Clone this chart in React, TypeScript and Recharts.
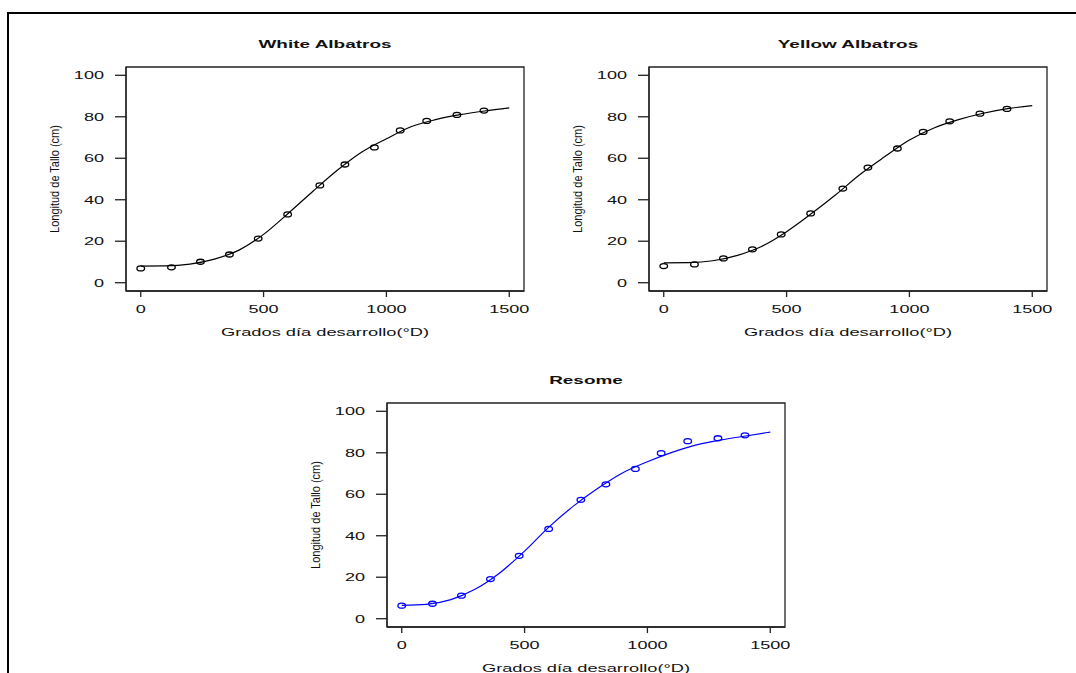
import React from "react";
import {
  ComposedChart,
  Line,
  Scatter,
  XAxis,
  YAxis,
  ReferenceArea,
} from "recharts";

// ---- data ----
const POINT_X = [0, 125, 243, 361, 478, 598, 729, 831, 951, 1056, 1164, 1287, 1397];
const WHITE_POINTS = [6.9, 7.4, 10.1, 13.6, 21.3, 32.9, 46.9, 57.0, 65.2, 73.4, 78.0, 80.9, 83.0];
const YELLOW_POINTS = [8.0, 8.8, 11.7, 16.1, 23.3, 33.4, 45.4, 55.5, 64.7, 72.7, 77.8, 81.5, 83.8];
const RESOME_POINTS = [6.3, 7.2, 11.1, 19.1, 30.3, 43.3, 57.3, 64.8, 72.2, 79.8, 85.6, 87.0, 88.4];

const CURVE_X = [0, 100, 200, 300, 400, 500, 600, 700, 800, 900, 1000, 1100, 1200, 1300, 1400, 1500];
const WHITE_CURVE = [8.0, 8.1, 9.0, 11.4, 15.7, 23.3, 33.4, 44.0, 54.2, 63.0, 69.4, 75.2, 78.6, 81.0, 82.8, 84.3];
const YELLOW_CURVE = [9.6, 9.7, 10.6, 13.2, 17.6, 24.6, 33.2, 42.4, 52.3, 60.8, 68.8, 74.6, 78.6, 81.7, 83.9, 85.4];
const RESOME_CURVE = [6.4, 6.9, 9.2, 14.3, 22.2, 32.6, 44.3, 54.4, 63.0, 70.4, 75.7, 80.2, 83.8, 86.2, 88.1, 90.0];

const X_TICKS = [0, 500, 1000, 1500];
const Y_TICKS = [0, 20, 40, 60, 80, 100];
const X_DOMAIN = [-60, 1560];
const Y_DOMAIN = [-4, 104];

const TITLES = ["White Albatros", "Yellow Albatros", "Resome"];
const X_LABEL = "Grados día desarrollo(°D)";
const Y_LABEL = "Longitud de Tallo (cm)";

// ---- styling ----
const FONT = "'Liberation Sans', Arial, Helvetica, sans-serif";
const SX = 1.6; // horizontal stretch of the original picture
const BOX_W = 398;
const BOX_H = 224;
const PAD_L = 100;
const PAD_T = 50;
const PAD_R = 30;
const PAD_B = 50;
const YW = 60;
const XH = 30;

const toPts = (xs: number[], ys: number[]) => xs.map((x, i) => ({ x, y: ys[i] }));

const StretchText = ({
  x,
  y,
  text,
  anchor = "middle",
  size = 11,
  weight = "normal",
  sx = SX,
  rotate = 0,
  color = "#111",
}: any) => (
  <g transform={`translate(${x},${y}) scale(${sx},1) rotate(${rotate})`}>
    <text
      x={0}
      y={0}
      textAnchor={anchor}
      dominantBaseline="central"
      fontFamily={FONT}
      fontSize={size}
      fontWeight={weight}
      fill={color}
    >
      {text}
    </text>
  </g>
);

const YTick = (props: any) => {
  const { x, y, payload } = props;
  return <StretchText x={x} y={y} text={String(payload.value)} anchor="end" size={11.3} />;
};
const XTick = (props: any) => {
  const { x, y, payload } = props;
  return <StretchText x={x} y={y} text={String(payload.value)} anchor="middle" size={11.3} />;
};

const makeMarker = (color: string) => (props: any) => {
  const { cx, cy } = props;
  if (cx == null || cy == null) return <g />;
  return (
    <ellipse cx={cx} cy={cy} rx={3.8} ry={2.5} fill="none" stroke={color} strokeWidth={1.3} />
  );
};

const Panel = ({
  left,
  top,
  title,
  points,
  curve,
  color,
}: {
  left: number;
  top: number;
  title: string;
  points: { x: number; y: number }[];
  curve: { x: number; y: number }[];
  color: string;
}) => {
  const W = PAD_L + BOX_W + PAD_R;
  const H = PAD_T + BOX_H + PAD_B;
  return (
    <div style={{ position: "absolute", left: left - PAD_L, top: top - PAD_T, width: W, height: H }}>
      <ComposedChart
        width={W}
        height={H}
        margin={{ top: PAD_T, right: PAD_R, bottom: PAD_B - XH, left: PAD_L - YW }}
      >
        <XAxis
          type="number"
          dataKey="x"
          domain={X_DOMAIN}
          ticks={X_TICKS}
          height={XH}
          allowDataOverflow
          tickSize={6}
          tickMargin={12}
          tick={<XTick />}
          axisLine={{ stroke: "#222", strokeWidth: 1.3 }}
          tickLine={{ stroke: "#222", strokeWidth: 1.3 }}
        />
        <YAxis
          type="number"
          dataKey="y"
          domain={Y_DOMAIN}
          ticks={Y_TICKS}
          width={YW}
          allowDataOverflow
          tickSize={11}
          tickMargin={11}
          tick={<YTick />}
          axisLine={{ stroke: "#222", strokeWidth: 1.3 }}
          tickLine={{ stroke: "#222", strokeWidth: 1.3 }}
        />
        <ReferenceArea
          x1={X_DOMAIN[0]}
          x2={X_DOMAIN[1]}
          y1={Y_DOMAIN[0]}
          y2={Y_DOMAIN[1]}
          fill="none"
          fillOpacity={0}
          stroke="#222"
          strokeWidth={1.3}
        />
        <Line
          data={curve}
          dataKey="y"
          type="monotone"
          stroke={color}
          strokeWidth={1.2}
          dot={false}
          activeDot={false}
          isAnimationActive={false}
        />
        <Scatter data={points} dataKey="y" shape={makeMarker(color)} isAnimationActive={false} />
      </ComposedChart>
      <svg
        width={W}
        height={H}
        style={{ position: "absolute", left: 0, top: 0, pointerEvents: "none" }}
      >
        <StretchText x={PAD_L + BOX_W / 2} y={PAD_T - 23.5} text={title} size={11.5} weight="bold" sx={1.65} />
        <StretchText x={PAD_L + BOX_W / 2} y={PAD_T + BOX_H + 40.5} text={X_LABEL} size={11} sx={1.66} />
        <StretchText
          x={PAD_L - 71}
          y={PAD_T + BOX_H / 2}
          text={Y_LABEL}
          size={11}
          sx={1.2}
          rotate={-90}
        />
      </svg>
    </div>
  );
};

export default function App() {
  return (
    <div
      style={{
        position: "absolute",
        left: 0,
        top: 0,
        width: 1076,
        height: 673,
        background: "#fff",
        overflow: "hidden",
      }}
    >
      <div
        style={{
          position: "absolute",
          left: 7,
          top: 12,
          width: 1069,
          height: 661,
          borderTop: "2px solid #000",
          borderLeft: "2px solid #000",
          boxSizing: "border-box",
        }}
      />
      <Panel
        left={126}
        top={67}
        title={TITLES[0]}
        points={toPts(POINT_X, WHITE_POINTS)}
        curve={toPts(CURVE_X, WHITE_CURVE)}
        color="#000"
      />
      <Panel
        left={649}
        top={67}
        title={TITLES[1]}
        points={toPts(POINT_X, YELLOW_POINTS)}
        curve={toPts(CURVE_X, YELLOW_CURVE)}
        color="#000"
      />
      <Panel
        left={387}
        top={403}
        title={TITLES[2]}
        points={toPts(POINT_X, RESOME_POINTS)}
        curve={toPts(CURVE_X, RESOME_CURVE)}
        color="#0000ff"
      />
    </div>
  );
}
